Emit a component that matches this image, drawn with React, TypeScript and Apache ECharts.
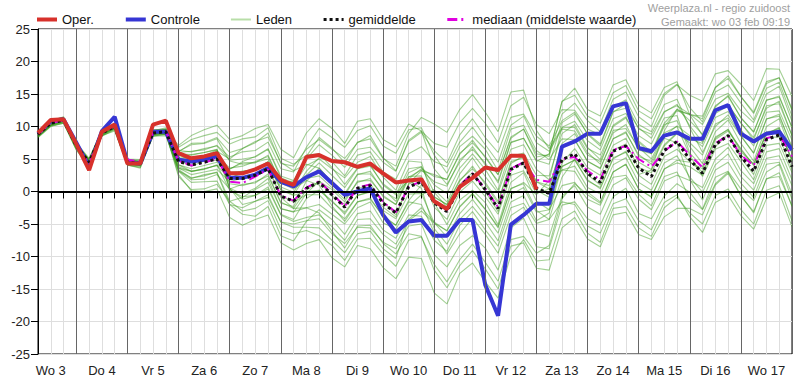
import React, { useEffect, useRef } from 'react';
import * as echarts from 'echarts';

// Day labels (label sits at 12:00 of each day); data are six-hourly from Wo 3 06:00 to Do 18 00:00
const dayNames = ['Wo 3', 'Do 4', 'Vr 5', 'Za 6', 'Zo 7', 'Ma 8', 'Di 9', 'Wo 10', 'Do 11', 'Vr 12', 'Za 13', 'Zo 14', 'Ma 15', 'Di 16', 'Wo 17'];
const allDays = [...dayNames, 'Do 18'];
const yTicks = [-25, -20, -15, -10, -5, 0, 5, 10, 15, 20, 25];

const categories: string[] = [];
for (let i = 0; i < 60; i++) {
  const h = 6 + 6 * i;
  categories.push(`${allDays[Math.floor(h / 24)]} ${String(h % 24).padStart(2, '0')}:00`);
}

const oper = [9.0, 11.0, 11.1, 7.3, 3.3, 9.2, 10.3, 4.3, 4.3, 10.3, 10.9, 5.9, 5.1, 5.4, 5.9, 2.8, 2.8, 3.4, 4.3, 1.8, 1.0, 5.3, 5.6, 4.7, 4.5, 3.8, 4.3, 2.8, 1.4, 1.7, 1.9, -1.5, -2.7, 0.7, 2.1, 3.7, 3.3, 5.5, 5.5, 0.3];
const controle = [8.9, 10.8, 11.1, 7.5, 3.8, 9.3, 11.5, 4.5, 4.3, 9.2, 9.2, 4.9, 4.6, 4.9, 5.4, 2.1, 2.1, 2.6, 3.6, 1.5, 0.8, 2.2, 3.1, 1.3, -0.5, 0.0, 0.5, -3.6, -6.3, -4.6, -4.4, -6.8, -6.8, -4.4, -4.4, -14.4, -19.1, -5.1, -3.6, -1.9, -1.9, 6.9, 7.7, 8.9, 8.9, 13.1, 13.6, 6.7, 6.2, 8.6, 9.1, 8.1, 8.1, 12.5, 13.3, 8.9, 7.7, 8.9, 9.2, 6.4];
const gemiddelde = [8.8, 10.5, 11.0, 7.0, 4.5, 9.0, 10.0, 4.5, 4.3, 9.0, 9.2, 4.6, 4.1, 4.5, 5.0, 2.0, 2.0, 2.5, 3.5, -0.7, -1.5, 0.5, 1.4, -0.5, -2.4, 0.5, 0.9, -1.8, -3.3, 0.7, 1.5, -1.7, -3.1, 0.7, 2.7, 0.3, -2.6, 3.4, 4.4, 0.5, -0.3, 4.9, 5.8, 2.8, 1.4, 6.2, 7.0, 3.6, 2.3, 6.3, 7.7, 4.9, 2.8, 7.2, 8.6, 5.4, 3.1, 8.0, 8.7, 3.8];
const mediaan = [8.8, 10.5, 11.0, 7.0, 4.4, 9.1, 10.0, 4.9, 4.6, 9.0, 9.3, 4.7, 4.0, 4.4, 5.1, 1.5, 1.3, 2.3, 3.4, -0.6, -1.4, 0.6, 1.6, -0.3, -2.3, 0.6, 1.1, -1.6, -3.2, 0.7, 1.6, -1.5, -2.9, 0.9, 2.8, 0.4, -2.4, 3.5, 4.5, 1.8, 1.5, 5.0, 5.3, 3.2, 1.8, 6.4, 7.0, 5.0, 3.8, 6.2, 7.7, 5.6, 3.7, 7.4, 8.6, 5.6, 4.0, 8.2, 8.7, 5.4];

const lidA = [9.1, 10.8, 11.3, 7.5, 4.8, 9.5, 10.3, 5.0, 4.6, 9.3, 9.8, 6.1, 7.4, 7.5, 8.3, 6.0, 6.6, 7.5, 9.0, 4.3, 3.9, 6.5, 8.0, 6.5, 5.1, 7.5, 8.6, 5.2, 3.2, 7.7, 9.1, 6.3, 4.4, 8.7, 11.2, 8.3, 6.0, 11.4, 11.9, 8.5, 7.0, 10.9, 12.2, 8.8, 7.0, 12.2, 13.5, 9.6, 8.8, 12.3, 13.2, 11.9, 10.3, 14.2, 15.1, 12.4, 10.6, 15.0, 16.2, 10.8];
const lidB = [8.4, 10.1, 10.6, 6.4, 3.8, 8.6, 9.3, 4.1, 3.6, 8.6, 8.8, 3.1, 1.4, 1.5, 1.6, -2.0, -2.5, -1.5, -0.9, -4.7, -5.0, -4.5, -4.2, -6.5, -8.0, -5.5, -5.6, -7.8, -8.8, -5.3, -5.0, -9.7, -11.6, -8.3, -6.8, -8.7, -12.1, -5.6, -4.1, -8.5, -8.8, -2.1, -1.6, -4.2, -5.2, -0.8, 0.5, -3.4, -4.2, -0.7, 1.2, -0.1, -2.7, 2.2, 3.1, 0.4, -1.4, 3.0, 4.2, -1.2];
const lidC = [9.0, 10.7, 11.2, 6.9, 4.9, 9.1, 10.3, 4.9, 4.4, 9.3, 9.2, 5.6, 4.8, 5.5, 6.4, 0.5, -0.4, 0.5, 2.0, -2.7, -3.1, -2.5, -2.0, -3.5, -5.0, -2.5, -1.6, -4.8, -5.8, -2.3, -0.5, 0.3, -1.6, 2.7, 5.2, 2.3, -0.2, 5.4, 5.9, 2.5, 2.4, 8.9, 10.3, 6.8, 4.9, 10.2, 11.5, 7.6, 5.8, 10.3, 10.9, 6.9, 4.3, 9.2, 11.0, 7.4, 4.7, 10.0, 11.2, 5.8];
const lidD = [8.6, 10.3, 10.8, 6.6, 4.3, 8.8, 9.8, 4.3, 4.1, 8.8, 9.0, 3.6, 3.1, 3.5, 4.0, 3.5, 4.4, 4.5, 5.0, 1.3, 1.0, 4.0, 5.0, 3.5, 2.1, 4.5, 5.4, 2.2, 0.2, 4.7, 4.5, -1.7, -5.1, -1.3, 0.2, -1.7, -5.1, 1.4, 2.9, -1.5, -2.8, 0.9, 1.4, -1.2, -2.1, 2.2, 2.5, -0.4, -2.2, 2.3, 3.0, -1.1, -2.8, 1.2, 3.0, -0.6, -3.3, 2.0, 2.3, -2.2];
const lidE = [9.3, 11.0, 11.4, 7.5, 5.1, 9.4, 10.5, 5.0, 4.9, 9.5, 9.6, 6.3, 6.1, 6.6, 7.0, 4.8, 5.0, 5.3, 6.5, 2.1, 1.3, 2.0, 2.4, 0.6, -1.2, 1.4, 2.0, -0.8, -2.0, 1.9, 3.5, 2.3, 1.9, 5.7, 7.9, 5.2, 2.6, 8.2, 9.6, 5.3, 5.7, 13.9, 14.8, 11.6, 10.5, 15.2, 16.3, 12.4, 11.2, 15.1, 16.5, 12.9, 10.7, 15.3, 16.4, 13.6, 11.0, 15.9, 16.8, 11.6];
const lidF = [8.3, 10.0, 10.5, 6.4, 4.0, 8.5, 9.5, 4.1, 3.7, 8.5, 8.6, 3.2, 2.1, 2.4, 3.0, -1.5, -3.0, -2.6, -1.4, -5.8, -6.5, -6.0, -6.8, -8.3, -10.6, -7.3, -7.2, -9.6, -11.5, -7.5, -7.0, -11.2, -13.9, -10.5, -8.1, -10.9, -13.8, -7.4, -6.9, -9.5, -8.3, -1.1, 1.2, -0.5, -1.8, 3.0, 4.2, 0.4, -0.8, 3.5, 4.4, 3.8, 2.5, 8.0, 9.3, 6.6, 4.0, 9.2, 9.5, 4.9];
const lidG = [8.8, 10.4, 11.1, 7.1, 4.4, 9.1, 9.9, 4.6, 4.2, 9.1, 9.1, 4.8, 3.9, 4.7, 4.8, 2.8, 3.1, 3.4, 4.6, 0.2, -0.6, 0.0, 0.2, -1.4, -3.5, -0.6, 0.0, -2.9, -4.2, -0.4, -0.3, -4.8, -7.0, -3.4, -1.2, -3.8, -6.4, -0.5, 0.6, -3.2, -2.8, 4.4, 6.6, 3.7, 2.5, 7.1, 8.2, 4.5, 3.4, 7.2, 9.0, 7.5, 5.6, 10.4, 11.3, 8.5, 5.9, 11.2, 11.6, 6.9];
const lidH = [8.9, 10.6, 11.0, 7.2, 4.7, 9.0, 10.2, 4.6, 4.5, 9.2, 9.4, 6.8, 8.0, 8.6, 9.1, 7.3, 8.1, 8.4, 9.8, 5.1, 4.2, 5.6, 5.8, 3.7, 1.1, 3.6, 4.1, 1.0, -0.5, 3.5, 3.8, -0.1, -2.4, 1.1, 2.9, 0.0, -3.1, 3.7, 4.2, 0.2, -0.9, 3.3, 3.9, 0.6, -0.4, 4.1, 5.2, 1.4, 0.2, 4.4, 5.5, 2.2, -0.1, 4.1, 5.8, 2.3, 0.2, 5.1, 5.5, 0.9];
const lidI = [8.7, 10.3, 10.9, 6.8, 4.4, 8.8, 9.9, 4.3, 4.2, 8.8, 9.0, 2.3, 0.3, 0.4, 1.1, -1.5, -0.9, 0.3, 1.4, -2.6, -3.2, -0.3, 1.6, 0.3, -1.6, 1.6, 1.7, -0.6, -2.0, 2.2, 3.3, 1.5, 0.8, 4.9, 6.5, 4.4, 1.3, 7.5, 8.2, 4.8, 4.2, 10.6, 11.9, 8.9, 7.3, 12.3, 12.8, 9.8, 8.2, 12.2, 13.4, 10.1, 7.6, 12.4, 13.4, 10.5, 8.3, 12.8, 13.9, 8.6];
const lidJ = [9.1, 10.9, 11.2, 7.4, 4.7, 9.3, 10.4, 4.7, 4.7, 9.2, 9.6, 5.3, 5.2, 5.4, 6.1, 2.9, 3.1, 3.3, 4.6, 0.7, -0.1, 3.1, 5.2, 4.6, 2.4, 5.6, 6.1, 3.0, 1.9, 5.8, 6.9, 4.6, 3.8, 7.6, 9.9, 7.2, 4.5, 10.2, 11.6, 7.5, 6.2, 9.6, 9.3, 6.0, 4.2, 9.4, 9.7, 6.8, 5.0, 9.0, 10.0, 5.6, 2.3, 6.5, 7.4, 4.6, 1.8, 7.1, 7.4, 2.9];
const lidK = [8.5, 10.2, 10.7, 6.6, 4.3, 8.7, 9.6, 4.2, 3.9, 8.7, 8.8, 3.8, 3.1, 3.4, 4.1, 0.2, -0.8, -0.6, 0.4, -3.6, -4.6, -4.0, -3.6, -5.4, -7.5, -4.3, -4.2, -6.6, -8.1, -4.5, -3.0, -4.9, -6.0, -2.4, -0.4, -2.8, -5.4, 0.5, 1.2, -2.9, -4.3, -1.6, -2.0, -5.3, -6.4, -1.9, -1.1, -4.5, -5.9, -1.7, -0.5, -3.9, -6.3, -1.7, -0.6, -3.7, -5.8, -1.1, -0.2, -5.4];
const lidL = [9.2, 10.8, 11.5, 7.3, 5.0, 9.4, 10.3, 5.0, 4.6, 9.5, 9.5, 6.0, 6.2, 6.4, 7.1, 5.3, 6.1, 6.3, 7.6, 3.5, 3.0, 6.8, 9.7, 8.3, 6.8, 9.4, 10.1, 7.0, 5.9, 9.5, 9.8, 5.6, 2.8, 6.9, 8.5, 6.5, 3.2, 9.6, 10.2, 6.3, 4.9, 8.1, 8.0, 4.6, 3.6, 8.1, 9.2, 5.4, 4.6, 8.5, 10.1, 8.6, 6.9, 11.4, 12.3, 9.5, 7.0, 12.2, 12.4, 7.9];
const lidN = [8.6, 10.3, 10.8, 6.9, 4.2, 8.9, 9.7, 4.3, 4.0, 8.9, 9.0, 5.0, 4.7, 4.9, 5.6, 1.2, 0.9, 1.5, 2.4, -1.6, -2.6, 0.2, 1.6, -0.7, -2.0, 0.4, 1.2, -1.5, -3.6, 1.1, 2.0, -0.9, -2.0, 1.6, 3.9, 1.1, -1.8, 4.6, 5.2, 1.5, 0.4, 3.8, 4.9, 1.6, 0.6, 5.0, 6.2, 2.5, 1.1, 5.4, 6.5, 4.6, 3.0, 6.9, 8.8, 5.2, 2.6, 8.3, 8.4, 3.5];
const lidO = [9.0, 10.6, 11.2, 7.1, 4.8, 9.2, 10.1, 4.7, 4.4, 9.1, 9.3, 3.4, 2.0, 2.6, 2.9, -2.0, -3.5, -3.8, -2.3, -6.8, -7.6, -4.6, -2.8, -4.3, -6.6, -3.4, -3.0, -5.9, -7.2, -3.6, -3.8, -7.5, -9.2, -5.2, -3.1, -5.9, -8.4, -2.5, -1.8, -4.9, -4.3, 2.2, 5.0, 2.6, 1.0, 6.4, 7.3, 3.7, 2.9, 7.0, 8.9, 8.1, 7.4, 12.0, 13.2, 10.6, 7.9, 13.2, 13.5, 8.6];
const lidP = [8.8, 10.5, 10.9, 7.0, 4.6, 9.0, 10.1, 4.4, 4.3, 9.0, 9.3, 6.2, 7.2, 7.4, 8.1, 4.7, 4.2, 4.4, 5.6, 1.3, 0.4, 1.7, 1.0, -2.2, -4.6, -1.6, -1.2, -3.7, -5.2, -1.6, -2.0, -6.3, -9.6, -6.5, -4.1, -6.6, -9.5, -3.7, -2.4, -6.3, -6.9, -0.7, 0.9, -2.4, -3.5, 1.0, 2.1, -1.2, -2.8, 1.6, 2.5, 1.7, 0.6, 5.0, 6.8, 3.2, 1.2, 6.1, 6.6, 1.8];
const lidQ = [8.4, 10.1, 10.5, 6.7, 4.0, 8.6, 9.6, 4.0, 3.9, 8.5, 8.8, 4.1, 3.5, 4.0, 4.5, 3.4, 4.6, 5.4, 6.6, 2.4, 1.7, 5.0, 7.2, 5.6, 3.7, 6.5, 6.8, 4.5, 3.1, 7.9, 9.3, 7.4, 6.8, 10.6, 12.8, 10.5, 7.5, 13.2, 14.5, 10.3, 8.9, 12.6, 12.5, 9.6, 8.7, 13.0, 14.1, 10.3, 9.2, 13.4, 14.2, 9.8, 6.0, 10.0, 11.8, 8.6, 5.9, 11.1, 11.9, 6.6];
const lidR = [9.1, 10.7, 11.4, 7.2, 4.9, 9.2, 10.4, 4.7, 4.7, 9.2, 9.5, 5.8, 5.7, 6.0, 6.4, 2.8, 2.2, 2.3, 3.7, -0.9, -2.6, -2.5, -3.3, -6.1, -8.7, -5.3, -5.2, -8.0, -9.6, -6.5, -6.9, -12.1, -14.8, -11.4, -9.1, -11.9, -15.0, -8.4, -7.9, -11.8, -12.1, -5.6, -4.0, -7.3, -8.5, -3.6, -3.2, -6.6, -7.4, -3.9, -2.6, -2.6, -3.6, 1.0, 2.8, -0.7, -3.1, 1.9, 2.9, -2.3];
const lidS = [8.7, 10.4, 10.9, 6.9, 4.3, 8.9, 9.8, 4.5, 4.1, 8.9, 9.1, 3.2, 1.8, 1.9, 2.6, 0.4, 1.1, 1.3, 2.7, -1.8, -2.3, 1.6, 3.6, 1.4, -0.3, 2.7, 2.7, 0.4, -1.5, 2.3, 2.4, -2.4, -4.3, -0.1, 1.6, -0.8, -3.5, 2.5, 3.2, -0.3, 0.4, 7.4, 8.9, 5.6, 4.6, 9.0, 10.3, 6.4, 5.8, 10.0, 12.4, 11.9, 11.2, 16.0, 17.4, 14.6, 12.0, 16.6, 17.5, 12.5];
const lidT = [8.9, 10.6, 11.1, 7.1, 4.5, 9.1, 10.0, 4.6, 4.4, 9.1, 9.2, 5.0, 4.8, 5.3, 6.2, 5.0, 6.6, 7.7, 8.4, 4.5, 3.2, 4.2, 3.6, 1.4, -0.6, 2.6, 3.1, 0.1, -1.1, 2.9, 3.8, 1.0, -0.3, 3.6, 5.8, 3.4, 0.2, 6.5, 7.2, 3.4, 1.8, 3.3, 3.1, -0.1, -1.6, 3.0, 4.2, 0.4, -0.9, 3.4, 4.8, 4.5, 3.5, 8.4, 9.5, 6.1, 4.3, 8.8, 9.9, 4.6];
const lidU = [8.5, 10.2, 10.7, 6.7, 4.2, 8.6, 9.8, 4.2, 4.0, 8.7, 8.9, 5.1, 5.0, 5.4, 5.8, 0.4, -1.2, -0.6, 0.7, -3.5, -4.3, -1.1, 0.2, -1.6, -3.2, -0.6, -0.1, -2.4, -3.9, 1.2, 3.2, 2.6, 1.8, 5.9, 7.5, 5.4, 2.6, 8.4, 9.6, 5.8, 5.4, 11.9, 13.6, 10.9, 9.2, 14.2, 15.3, 11.5, 10.0, 14.8, 16.4, 14.8, 13.9, 18.1, 18.6, 16.5, 14.0, 18.9, 18.8, 14.6];
const lidV = [8.9, 10.7, 11.0, 7.2, 4.6, 9.0, 10.2, 4.6, 4.5, 9.0, 9.4, 7.1, 8.6, 9.5, 10.2, 8.0, 8.6, 9.7, 10.3, 6.5, 5.2, 9.0, 11.2, 9.7, 7.4, 10.8, 11.2, 8.0, 6.9, 10.4, 9.3, 3.5, 1.1, 4.5, 6.9, 4.1, 1.6, 7.6, 8.2, 4.6, 5.8, 13.8, 15.9, 12.6, 11.6, 16.4, 17.2, 13.3, 12.1, 16.0, 16.9, 11.8, 8.6, 13.0, 14.8, 11.3, 9.2, 14.1, 14.5, 9.9];
const lidW = [8.6, 10.2, 10.8, 6.8, 4.2, 8.8, 9.8, 4.3, 4.0, 8.8, 9.0, 2.6, 0.1, 0.0, 0.4, -4.0, -5.2, -4.3, -3.6, -7.9, -9.0, -8.0, -7.4, -10.2, -11.6, -8.3, -8.8, -11.7, -13.4, -10.1, -10.3, -15.6, -17.3, -12.6, -11.0, -13.9, -16.4, -9.8, -7.4, -10.7, -10.5, -4.2, -3.0, -6.4, -7.8, -2.6, -2.3, -5.6, -6.9, -2.5, -0.9, -3.3, -5.0, -0.6, 0.4, -2.8, -5.0, 0.2, 0.9, -4.5];
const lidX = [9.0, 10.6, 11.3, 7.2, 4.6, 9.2, 10.3, 4.6, 4.6, 9.1, 9.5, 5.0, 4.7, 4.9, 5.6, 3.6, 3.9, 4.6, 5.4, 1.4, 1.6, 5.4, 8.3, 6.7, 4.4, 7.6, 8.1, 5.1, 3.9, 8.9, 11.4, 10.4, 9.1, 12.6, 14.9, 12.2, 9.2, 15.3, 15.6, 9.4, 6.6, 9.8, 9.9, 6.6, 5.6, 10.0, 11.3, 7.8, 6.1, 10.5, 12.6, 11.8, 11.6, 16.0, 17.8, 14.6, 12.2, 16.9, 17.5, 12.7];
const lidY = [8.8, 10.5, 11.1, 6.9, 4.5, 9.0, 9.9, 4.5, 4.4, 8.9, 9.2, 3.6, 2.6, 3.0, 3.4, 1.5, 2.1, 2.4, 3.7, -0.6, -1.6, -0.5, -0.5, -2.6, -4.2, -1.6, -1.0, -3.9, -5.2, -1.4, 1.0, -0.8, -2.0, 1.8, 3.5, 1.4, -1.5, 4.3, 5.5, 1.5, 0.9, 6.8, 7.9, 4.7, 3.5, 8.1, 9.0, 5.7, 4.2, 8.2, 7.5, 1.8, -1.3, 3.3, 4.5, 1.3, -0.9, 4.2, 4.5, -0.4];
const lidZ = [8.7, 10.4, 10.9, 6.9, 4.4, 8.9, 9.9, 4.4, 4.2, 8.9, 9.1, 5.6, 5.6, 6.0, 6.5, 0.5, -2.0, -1.5, -0.5, -4.7, -5.5, -5.5, -5.6, -7.5, -9.4, -6.5, -6.1, -8.8, -10.3, -4.3, -2.5, -4.7, -6.1, -2.3, -0.3, -2.7, -5.6, 0.4, 1.4, -0.5, 1.7, 9.9, 10.8, 7.8, 6.4, 11.2, 12.0, 8.6, 7.3, 11.3, 11.7, 5.9, 3.8, 8.2, 9.6, 6.4, 4.1, 9.0, 9.7, 4.8];
const lidAA = [9.0, 10.7, 11.2, 7.1, 4.7, 9.2, 10.2, 4.7, 4.5, 9.2, 9.4, 4.1, 3.1, 3.5, 4.0, 2.0, 3.0, 3.5, 4.5, 0.3, -0.5, 2.5, 4.4, 2.5, 0.6, 3.5, 3.9, 1.2, -0.3, 1.7, 0.5, -5.7, -8.1, -4.3, -2.3, -4.7, -7.6, -1.6, -0.6, -4.5, -3.3, 3.9, 4.8, 1.8, 0.4, 5.2, 6.0, 2.6, 3.3, 9.3, 12.7, 10.9, 8.8, 13.2, 14.6, 11.4, 9.1, 14.0, 14.7, 9.8];

const leden = [lidA, lidB, lidC, lidD, lidE, lidF, lidG, lidH, lidI, lidJ, lidK, lidL, lidN, lidO, lidP, lidQ, lidR, lidS, lidT, lidU, lidV, lidW, lidX, lidY, lidZ, lidAA];

const FONT = 'Liberation Sans, Arial, sans-serif';

export default function App() {
  const ref = useRef<HTMLDivElement>(null);
  useEffect(() => {
    if (!ref.current) return;
    const chart = echarts.init(ref.current, undefined, { renderer: 'svg' });

    const dayLineCats = categories.filter((_, i) => i % 4 === 3);
    const memberColor = 'rgba(50,150,20,0.45)';
    const hideSym = { opacity: 0, borderWidth: 0 };

    const series: any[] = [
      {
        type: 'line', name: '_days', data: [], silent: true, z: 1,
        markLine: {
          silent: true, symbol: 'none', label: { show: false },
          lineStyle: { color: '#666', width: 1, type: 'solid' },
          data: dayLineCats.map((c) => ({ xAxis: c })),
        },
      },
      ...leden.map((d) => ({
        type: 'line', name: 'Leden', data: d, symbol: 'none', silent: true, z: 2,
        lineStyle: { color: memberColor, width: 1.1 }, itemStyle: { color: memberColor },
      })),
      {
        type: 'line', name: '_zero', data: [], silent: true, z: 3,
        markLine: {
          silent: true, symbol: 'none', label: { show: false },
          lineStyle: { color: '#000', width: 2, type: 'solid' },
          data: [{ yAxis: 0 }],
        },
      },
      {
        type: 'line', name: 'Controle', data: controle, symbol: 'none', z: 4,
        lineStyle: { color: '#3636d4', width: 4 }, itemStyle: { color: '#3636d4' },
      },
      {
        type: 'line', name: 'mediaan (middelste waarde)', data: mediaan, symbol: 'none', z: 5,
        lineStyle: { color: '#e000e0', width: 2, type: [10, 4, 2, 4] }, itemStyle: { color: '#e000e0' },
      },
      {
        type: 'line', name: 'gemiddelde', data: gemiddelde, symbol: 'none', z: 6,
        lineStyle: { color: '#111', width: 3, type: [3, 3] }, itemStyle: { color: '#111' },
      },
      {
        type: 'line', name: 'Oper.', data: oper, symbol: 'none', z: 7,
        lineStyle: { color: '#d7312b', width: 4 }, itemStyle: { color: '#d7312b' },
      },
    ];

    chart.setOption({
      animation: false,
      textStyle: { fontFamily: FONT },
      grid: { left: 38, right: 8, top: 29, bottom: 34, show: true, borderColor: '#000', borderWidth: 1 },
      legend: {
        left: 35, top: 13, padding: 0, itemWidth: 20, itemHeight: 14, itemGap: 30,
        textStyle: { fontSize: 13, color: '#111', fontFamily: FONT },
        data: [
          { name: 'Oper.', lineStyle: { width: 4 }, itemStyle: hideSym },
          { name: 'Controle', lineStyle: { width: 4 }, itemStyle: hideSym },
          { name: 'Leden', lineStyle: { color: '#b8dea8', width: 2 }, itemStyle: hideSym },
          { name: 'gemiddelde', lineStyle: { width: 3 }, itemStyle: hideSym },
          { name: 'mediaan (middelste waarde)', lineStyle: { width: 3 }, itemStyle: hideSym },
        ],
      },
      graphic: [
        { type: 'text', right: 10, top: 2, style: { text: 'Weerplaza.nl - regio zuidoost', fill: '#a0a0a0', font: `11px ${FONT}` } },
        { type: 'text', right: 10, top: 16, style: { text: 'Gemaakt: wo 03 feb 09:19', fill: '#a0a0a0', font: `11px ${FONT}` } },
      ],
      xAxis: {
        type: 'category', data: categories, boundaryGap: false,
        axisLine: { lineStyle: { color: '#000', width: 1 } },
        axisTick: { show: true, interval: 0, length: 7, lineStyle: { color: '#000' } },
        axisLabel: {
          interval: 0, margin: 10, fontSize: 13, color: '#222', fontFamily: FONT,
          formatter: (_v: string, idx: number) => (idx % 4 === 1 ? dayNames[(idx - 1) / 4] : ''),
        },
        splitLine: { show: true, interval: 0, lineStyle: { color: '#dedede', width: 1 } },
      },
      yAxis: {
        type: 'value', min: yTicks[0], max: yTicks[yTicks.length - 1], interval: 5,
        axisLine: { show: true, lineStyle: { color: '#000', width: 1 } },
        axisTick: { show: true, length: 7, lineStyle: { color: '#000' } },
        axisLabel: { margin: 8, fontSize: 13, color: '#222', fontFamily: FONT },
        splitLine: { show: true, lineStyle: { color: '#dedede', width: 1 } },
      },
      series,
    });
    return () => chart.dispose();
  }, []);
  return <div ref={ref} style={{ width: 800, height: 388, position: 'absolute', left: 0, top: 0 }} />;
}
